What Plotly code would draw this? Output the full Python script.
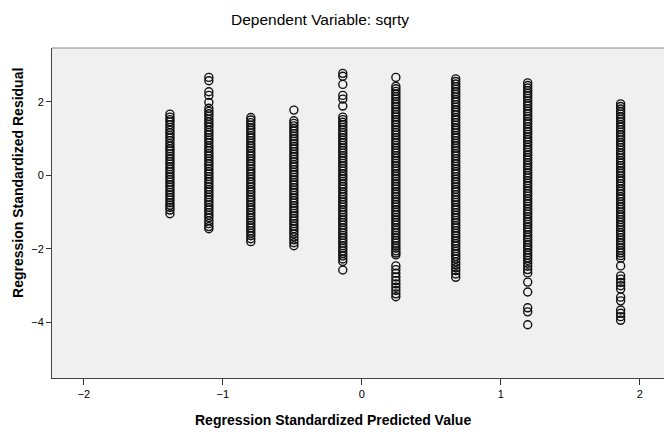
import plotly.graph_objects as go

# Standardized predicted value of each group (x position of each column)
predicted = [-1.381, -1.101, -0.799, -0.489, -0.137, 0.245, 0.676, 1.194, 1.863]

# Standardized residuals observed at each predicted value
res_1 = [1.66, 1.58, 1.51, 1.45, 1.37, 1.30, 1.22, 1.15, 1.08, 1.01, 0.94, 0.86, 0.79, 0.72,
         0.66, 0.58, 0.51, 0.44, 0.37, 0.30, 0.23, 0.16, 0.09, 0.02, -0.05, -0.12, -0.19,
         -0.26, -0.33, -0.40, -0.47, -0.54, -0.61, -0.68, -0.75, -0.82, -0.88, -0.95, -1.05]
res_2 = [2.66, 2.57, 2.27, 2.17, 1.98, 1.82, 1.74, 1.67, 1.60, 1.52, 1.45, 1.38, 1.31, 1.23,
         1.16, 1.09, 1.02, 0.95, 0.88, 0.80, 0.73, 0.66, 0.59, 0.52, 0.45, 0.38, 0.31, 0.24,
         0.17, 0.10, 0.03, -0.04, -0.11, -0.18, -0.25, -0.32, -0.39, -0.46, -0.53, -0.60,
         -0.67, -0.74, -0.81, -0.88, -0.95, -1.02, -1.09, -1.16, -1.24, -1.32, -1.40, -1.46]
res_3 = [1.57, 1.50, 1.43, 1.36, 1.29, 1.22, 1.15, 1.08, 1.01, 0.94, 0.87, 0.80, 0.73, 0.66,
         0.59, 0.52, 0.45, 0.38, 0.31, 0.24, 0.17, 0.10, 0.03, -0.04, -0.11, -0.18, -0.25,
         -0.32, -0.39, -0.46, -0.53, -0.60, -0.67, -0.74, -0.81, -0.88, -0.95, -1.02, -1.09,
         -1.16, -1.23, -1.30, -1.37, -1.44, -1.51, -1.58, -1.65, -1.73, -1.81]
res_4 = [1.77, 1.48, 1.41, 1.34, 1.27, 1.20, 1.13, 1.06, 0.99, 0.92, 0.85, 0.78, 0.71, 0.64,
         0.57, 0.50, 0.43, 0.36, 0.29, 0.22, 0.15, 0.08, 0.01, -0.06, -0.13, -0.20, -0.27,
         -0.34, -0.41, -0.48, -0.55, -0.62, -0.69, -0.76, -0.83, -0.90, -0.97, -1.04, -1.11,
         -1.18, -1.25, -1.32, -1.39, -1.46, -1.53, -1.60, -1.68, -1.76, -1.84, -1.92]
res_5 = [2.77, 2.69, 2.47, 2.17, 2.07, 1.88, 1.58, 1.51, 1.44, 1.37, 1.30, 1.23, 1.16, 1.09,
         1.02, 0.95, 0.88, 0.81, 0.74, 0.67, 0.60, 0.53, 0.46, 0.39, 0.32, 0.25, 0.18, 0.11,
         0.04, -0.03, -0.10, -0.17, -0.24, -0.31, -0.38, -0.45, -0.52, -0.59, -0.66, -0.73,
         -0.80, -0.87, -0.94, -1.01, -1.08, -1.15, -1.22, -1.29, -1.36, -1.43, -1.50, -1.57,
         -1.64, -1.71, -1.78, -1.85, -1.92, -1.99, -2.06, -2.13, -2.20, -2.28, -2.35, -2.58]
res_6 = [2.66, 2.42, 2.35, 2.28, 2.21, 2.14, 2.07, 2.00, 1.93, 1.86, 1.79, 1.72, 1.65, 1.58,
         1.51, 1.44, 1.37, 1.30, 1.23, 1.16, 1.09, 1.02, 0.95, 0.88, 0.81, 0.74, 0.67, 0.60,
         0.53, 0.46, 0.39, 0.32, 0.25, 0.18, 0.11, 0.04, -0.03, -0.10, -0.17, -0.24, -0.31,
         -0.38, -0.45, -0.52, -0.59, -0.66, -0.73, -0.80, -0.87, -0.94, -1.01, -1.08, -1.15,
         -1.22, -1.29, -1.36, -1.43, -1.50, -1.57, -1.64, -1.71, -1.78, -1.85, -1.92, -1.99,
         -2.06, -2.12, -2.17, -2.47, -2.57, -2.67, -2.77, -2.87, -2.96, -3.05, -3.14, -3.23,
         -3.31]
res_7 = [2.62, 2.55, 2.48, 2.41, 2.34, 2.27, 2.20, 2.13, 2.06, 1.99, 1.92, 1.85, 1.78, 1.71,
         1.64, 1.57, 1.50, 1.43, 1.36, 1.29, 1.22, 1.15, 1.08, 1.01, 0.94, 0.87, 0.80, 0.73,
         0.66, 0.59, 0.52, 0.45, 0.38, 0.31, 0.24, 0.17, 0.10, 0.03, -0.04, -0.11, -0.18,
         -0.25, -0.32, -0.39, -0.46, -0.53, -0.60, -0.67, -0.74, -0.81, -0.88, -0.95, -1.02,
         -1.09, -1.16, -1.23, -1.30, -1.37, -1.44, -1.51, -1.58, -1.65, -1.72, -1.79, -1.86,
         -1.93, -2.00, -2.07, -2.14, -2.21, -2.28, -2.36, -2.44, -2.52, -2.60, -2.69, -2.78]
res_8 = [2.51, 2.44, 2.37, 2.30, 2.23, 2.16, 2.09, 2.02, 1.95, 1.88, 1.81, 1.74, 1.67, 1.60,
         1.53, 1.46, 1.39, 1.32, 1.25, 1.18, 1.11, 1.04, 0.97, 0.90, 0.83, 0.76, 0.69, 0.62,
         0.55, 0.48, 0.41, 0.34, 0.27, 0.20, 0.13, 0.06, -0.01, -0.08, -0.15, -0.22, -0.29,
         -0.36, -0.43, -0.50, -0.57, -0.64, -0.71, -0.78, -0.85, -0.92, -0.99, -1.06, -1.13,
         -1.20, -1.27, -1.34, -1.41, -1.48, -1.55, -1.62, -1.69, -1.76, -1.83, -1.90, -1.97,
         -2.04, -2.11, -2.18, -2.25, -2.32, -2.40, -2.48, -2.57, -2.66, -2.91, -3.18, -3.61,
         -3.72, -4.07]
res_9 = [1.94, 1.87, 1.80, 1.73, 1.66, 1.59, 1.52, 1.45, 1.38, 1.31, 1.24, 1.17, 1.10, 1.03,
         0.96, 0.89, 0.82, 0.75, 0.68, 0.61, 0.54, 0.47, 0.40, 0.33, 0.26, 0.19, 0.12, 0.05,
         -0.02, -0.09, -0.16, -0.23, -0.30, -0.37, -0.44, -0.51, -0.58, -0.65, -0.72, -0.79,
         -0.86, -0.93, -1.00, -1.07, -1.14, -1.21, -1.28, -1.35, -1.42, -1.49, -1.56, -1.63,
         -1.70, -1.77, -1.84, -1.91, -1.98, -2.05, -2.12, -2.19, -2.26, -2.47, -2.74, -2.83,
         -2.92, -3.01, -3.10, -3.32, -3.42, -3.67, -3.76, -3.85, -3.95]

residuals = [res_1, res_2, res_3, res_4, res_5, res_6, res_7, res_8, res_9]

x_ticks = [-2, -1, 0, 1, 2]
y_ticks = [-4, -2, 0, 2]

xs, ys = [], []
for px, col in zip(predicted, residuals):
    xs.extend([px] * len(col))
    ys.extend(col)

FONT = "Liberation Sans, Arial, sans-serif"

fig = go.Figure(
    go.Scatter(
        x=xs, y=ys, mode="markers",
        marker=dict(symbol="circle-open", size=8, color="#111111",
                    line=dict(width=1.4, color="#111111")),
        hoverinfo="skip",
    )
)

fig.update_layout(
    width=664, height=435,
    margin=dict(l=52, r=0, t=48, b=57),
    paper_bgcolor="white",
    plot_bgcolor="#F0F0F0",
    showlegend=False,
    font=dict(family=FONT, color="black"),
    xaxis=dict(range=[-2.23, 2.175], tickvals=x_ticks, ticks="outside", ticklen=6,
               tickcolor="#333", tickwidth=1, showline=True, linecolor="#444",
               linewidth=1, showgrid=False, zeroline=False,
               tickfont=dict(size=11, family=FONT)),
    yaxis=dict(range=[-5.52, 3.46], tickvals=y_ticks, ticks="outside", ticklen=5,
               tickcolor="#333", tickwidth=1, showline=True, linecolor="#444",
               linewidth=1, showgrid=False, zeroline=False,
               tickfont=dict(size=11, family=FONT)),
    shapes=[dict(type="line", xref="paper", yref="paper", x0=0, x1=1, y0=1, y1=1,
                 line=dict(color="#8a8a8a", width=1))],
    annotations=[
        dict(text="Dependent Variable: sqrty", xref="paper", yref="paper",
             x=0.438, y=1.085, xanchor="center", yanchor="middle", showarrow=False,
             font=dict(size=15.5, family=FONT)),
        dict(text="<b>Regression Standardized Predicted Value</b>", xref="paper",
             yref="paper", x=0.459, y=-0.127, xanchor="center", yanchor="middle",
             showarrow=False, font=dict(size=14, family=FONT)),
        dict(text="<b>Regression Standardized Residual</b>", xref="paper",
             yref="paper", x=-0.0556, y=0.591, xanchor="center", yanchor="middle",
             textangle=-90, showarrow=False, font=dict(size=14, family=FONT)),
    ],
)

fig.write_html("out.html")
